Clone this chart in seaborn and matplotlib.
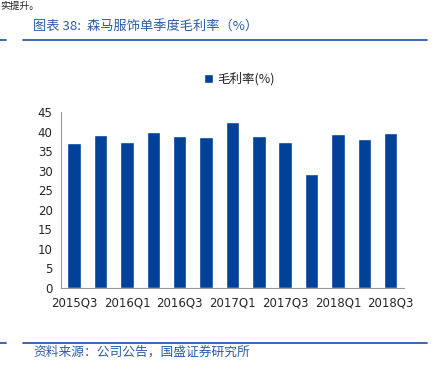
import numpy as np
import pandas as pd
import matplotlib
matplotlib.use("Agg")
import matplotlib.pyplot as plt
import seaborn as sns
from matplotlib.lines import Line2D

# quarterly gross margin (%)
quarters = ["2015Q3", "2015Q4", "2016Q1", "2016Q2", "2016Q3", "2016Q4", "2017Q1",
            "2017Q2", "2017Q3", "2017Q4", "2018Q1", "2018Q2", "2018Q3"]
margin = [37.2, 39.2, 37.3, 39.9, 39.0, 38.7, 42.4, 38.8, 37.3, 29.3, 39.5, 38.1, 39.7]
yticks = [0, 5, 10, 15, 20, 25, 30, 35, 40, 45]

df = pd.DataFrame({"quarter": quarters, "margin": margin})

sns.set_style("white")
plt.rcParams["font.family"] = ["DejaVu Sans", "Noto Sans CJK SC"]

fig = plt.figure(figsize=(4.34, 3.70), dpi=100)
ax = fig.add_axes([0.1406, 0.2216, 0.790, 0.475])

bar_color = "#00419a"
sns.barplot(data=df, x="quarter", y="margin", color=bar_color, width=0.51,
            saturation=1, ax=ax, label="毛利率(%)")

ax.set_xlim(-0.5, len(quarters) - 0.5)
ax.set_ylim(0, 45)
ax.set_yticks(yticks)
ax.set_yticklabels([str(v) for v in yticks], fontsize=8.5)
ax.set_xticks(np.arange(0, len(quarters), 2))
ax.set_xticklabels(quarters[::2], fontsize=8.5)
ax.set_xticks(np.arange(-0.5, len(quarters), 1), minor=True)
ax.tick_params(axis="x", which="major", length=0, pad=6)
ax.tick_params(axis="x", which="minor", length=3, color="#999999", direction="out")
ax.tick_params(axis="y", length=3, color="#999999", direction="out", pad=3)
ax.set_xlabel("")
ax.set_ylabel("")
for side in ["top", "right"]:
    ax.spines[side].set_visible(False)
for side in ["left", "bottom"]:
    ax.spines[side].set_color("#999999")
    ax.spines[side].set_linewidth(0.8)

leg = ax.legend(loc="center", bbox_to_anchor=(0.52, 1.19), frameon=False,
                handlelength=0.75, handleheight=0.75, handletextpad=0.3,
                prop={"family": ["Noto Sans CJK SC"], "size": 9})

cjk = ["Noto Sans CJK SC", "DejaVu Sans"]
blue = "#2a5ca8"
fig.text(0.0, 0.997, "实提升。", family=cjk, fontsize=7, va="top", ha="left", color="#222222")
fig.text(0.076, 0.927, "图表 38:  森马服饰单季度毛利率（%）", family=cjk, fontsize=9.5,
         color=blue, va="center", ha="left", style="italic")
fig.add_artist(Line2D([0.0, 0.014], [0.892, 0.892], color=blue, lw=1.3))
fig.add_artist(Line2D([0.053, 0.984], [0.892, 0.892], color=blue, lw=1.3))
fig.add_artist(Line2D([0.0, 0.014], [0.073, 0.073], color=blue, lw=1.3))
fig.add_artist(Line2D([0.053, 0.984], [0.073, 0.073], color=blue, lw=1.3))
fig.text(0.076, 0.047, "资料来源：公司公告，国盛证券研究所", family=cjk, fontsize=9.2,
         color=blue, va="center", ha="left", style="italic")

fig.savefig("out.png", dpi=100)
